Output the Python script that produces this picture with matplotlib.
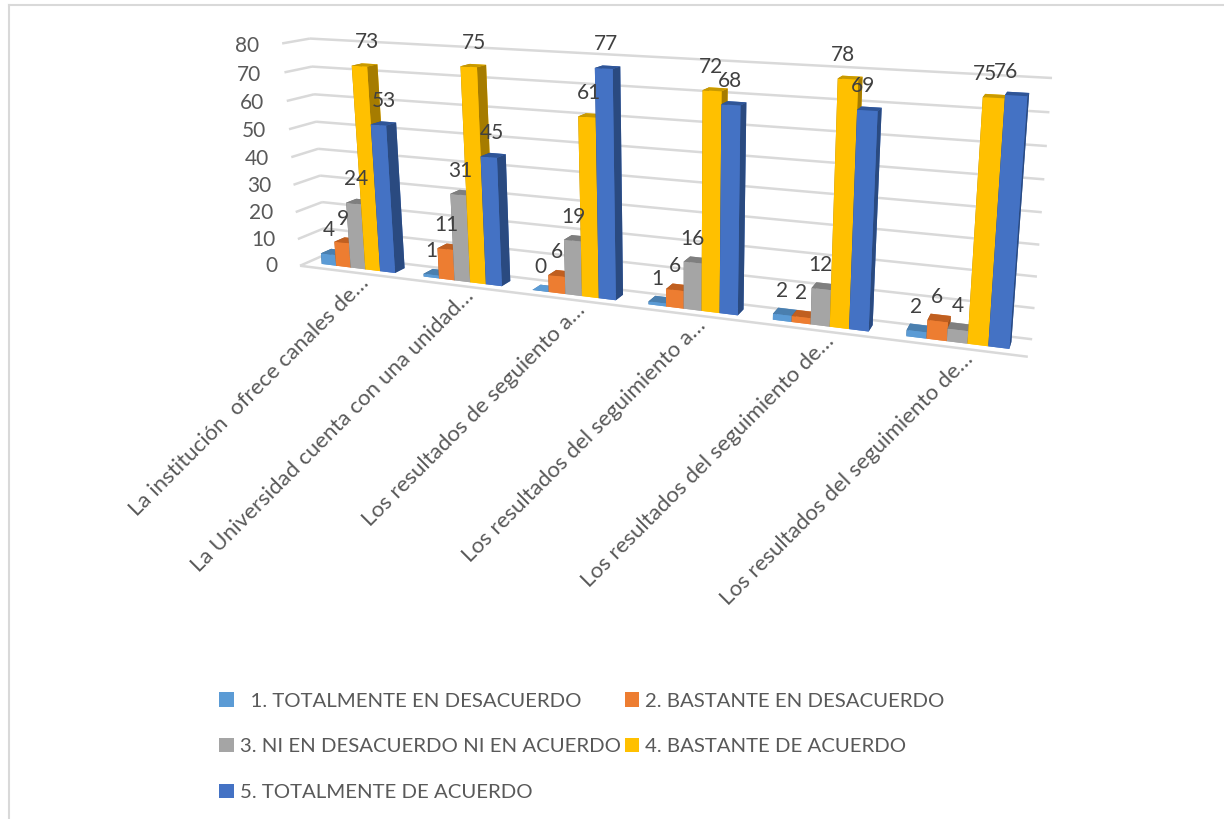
import numpy as np
import matplotlib as mpl
mpl.use('Agg')
from matplotlib import pyplot as plt
from matplotlib.lines import Line2D
from matplotlib.patches import Patch
from mpl_toolkits.mplot3d import proj3d
from mpl_toolkits.mplot3d.art3d import Line3DCollection

plt.rcParams['font.family'] = ['Lato', 'DejaVu Sans']

categories = ['La institución  ofrece canales de…',
              'La Universidad cuenta con una unidad…',
              'Los resultados de seguiento a…',
              'Los resultados del seguimiento a…',
              'Los resultados del seguimiento de…',
              'Los resultados del seguimiento de…']
series_names = ['  1. TOTALMENTE EN DESACUERDO', '2. BASTANTE EN DESACUERDO',
                '3. NI EN DESACUERDO NI EN ACUERDO', '4. BASTANTE DE ACUERDO',
                '5. TOTALMENTE DE ACUERDO']
totalmente_desacuerdo = [4, 1, 0, 1, 2, 2]
bastante_desacuerdo = [9, 11, 6, 6, 2, 6]
ni_ni = [24, 31, 19, 16, 12, 4]
bastante_acuerdo = [73, 75, 61, 72, 78, 75]
totalmente_acuerdo = [53, 45, 77, 68, 69, 76]
all_series = [totalmente_desacuerdo, bastante_desacuerdo, ni_ni, bastante_acuerdo, totalmente_acuerdo]
y_ticks = [0, 10, 20, 30, 40, 50, 60, 70, 80]

front_colors = ['#5B9BD5', '#ED7D31', '#A5A5A5', '#FFC000', '#4472C4']
top_colors = ['#4A7FAF', '#C05F20', '#7F7F7F', '#C99A00', '#2F5597']
side_colors = ['#37638A', '#A3531C', '#6E6E6E', '#A67C00', '#2A4A80']
grid_color = '#D9D9D9'
text_grey = '#595959'
label_grey = '#404040'

W, H = 1224, 819
NCAT = len(categories)


def fit_camera():
    # chart box corners as (category, depth, value) -> pixel, solved for a 3x4 camera
    world = [(0, 0, 0), (6, 0, 0), (0, 1, 0), (6, 1, 0), (0, 0, 80), (0, 1, 80), (6, 1, 80)]
    pixel = [(300, 265), (1028, 357), (326, 255), (1032, 339), (282, 44), (310, 38), (1052, 78)]
    rows = []
    for (u, v, w), (px, py) in zip(world, pixel):
        p = [u / 6, v, w / 80, 1]
        py = H - py
        rows.append(p + [0, 0, 0, 0] + [-px * c for c in p])
        rows.append([0, 0, 0, 0] + p + [-py * c for c in p])
    P = np.linalg.svd(np.array(rows, dtype=float))[2][-1].reshape(3, 4)
    P = P @ np.diag([1 / 6, 1, 1 / 80, 1])
    if P[2, 3] < 0:
        P = -P
    return P / P[2, 3]


P = fit_camera()
M = np.vstack([P[0], P[1], P[2] + np.array([0, 0, 0, -1.0]) * 0.5, P[2]])

fig = plt.figure(figsize=(W / 100, H / 100), dpi=100)
pad = (W - H) / 2
ax = fig.add_axes([0, -pad / H, 1, W / H], projection='3d', computed_zorder=False)
ax.set_xticks([])
ax.set_yticks([])
ax.set_zticks([])
ax.set_axis_off()
for a in (ax.xaxis, ax.yaxis, ax.zaxis):
    a.set_visible(False)
    a.label.set_visible(False)
    a.offsetText.set_visible(False)
for t in (ax.title, ax._left_title, ax._right_title):
    t.set_visible(False)


def camera():
    ax._viewLim.intervalx = (0, W)
    ax._viewLim.intervaly = (-pad, H + pad)
    return M


ax.get_proj = camera
camera()


def to_pixel(u, v, w):
    px, py, _ = proj3d.proj_transform(u, v, w, M)
    return float(px), float(py)


# gridlines on side and back wall
segs = [[(0, 0, 0), (NCAT, 0, 0)]]
for t in y_ticks:
    segs.append([(0, 0, t), (0, 1, t)])
    segs.append([(0, 1, t), (NCAT, 1, t)])
    ax.text(-0.23, 0, t - 1.3, str(t), ha='right', va='center', color=text_grey, fontsize=15, zorder=200)
ax.add_collection3d(Line3DCollection(segs, colors=grid_color, linewidths=1.8, zorder=1))

bar_w = 0.145
depth0, depth1 = 0.3, 0.7
n = 10
for i in range(NCAT):
    for s, values in enumerate(all_series):
        x = i + 0.14 + s * bar_w
        faces = [front_colors[s], top_colors[s], front_colors[s], front_colors[s],
                 side_colors[s], side_colors[s]]
        ax.bar3d(x, depth0, 0, bar_w, depth1 - depth0, values[i], color=faces, shade=False,
                 edgecolor='none', linewidth=0, zorder=n)
        n += 1
        lx = to_pixel(x + bar_w / 2, depth0, 0.45 * values[i])[0]
        ly = to_pixel(x + bar_w / 2, depth0, values[i])[1] + 24
        ax.text2D(lx, ly, str(values[i]), transform=ax.transData, ha='center', va='center',
                  color=label_grey, fontsize=15, zorder=200)

for i, name in enumerate(categories):
    px, py = to_pixel(i + 0.5, 0, 0)
    ax.text2D(px + 8, py - 1, name, transform=ax.transData, rotation=45, rotation_mode='anchor',
              ha='right', va='top', color=text_grey, fontsize=16)

handles = [Patch(facecolor=c, edgecolor='none') for c in front_colors]
order = [0, 2, 4, 1, 3]
fig.legend([handles[k] for k in order], [series_names[k] for k in order], ncols=2,
           loc='upper left', bbox_to_anchor=(201 / W, 1 - 674 / H), frameon=False,
           handlelength=0.7, handleheight=0.7, handletextpad=0.3, labelspacing=1.4,
           columnspacing=0.2, fontsize=14.65, labelcolor=text_grey)

fig.add_artist(Line2D([9 / W, 9 / W], [0, 1 - 5 / H], color=grid_color, linewidth=1.5))
fig.add_artist(Line2D([9 / W, 1], [1 - 5 / H, 1 - 5 / H], color=grid_color, linewidth=1.5))

plt.savefig('out.png', dpi=100)
